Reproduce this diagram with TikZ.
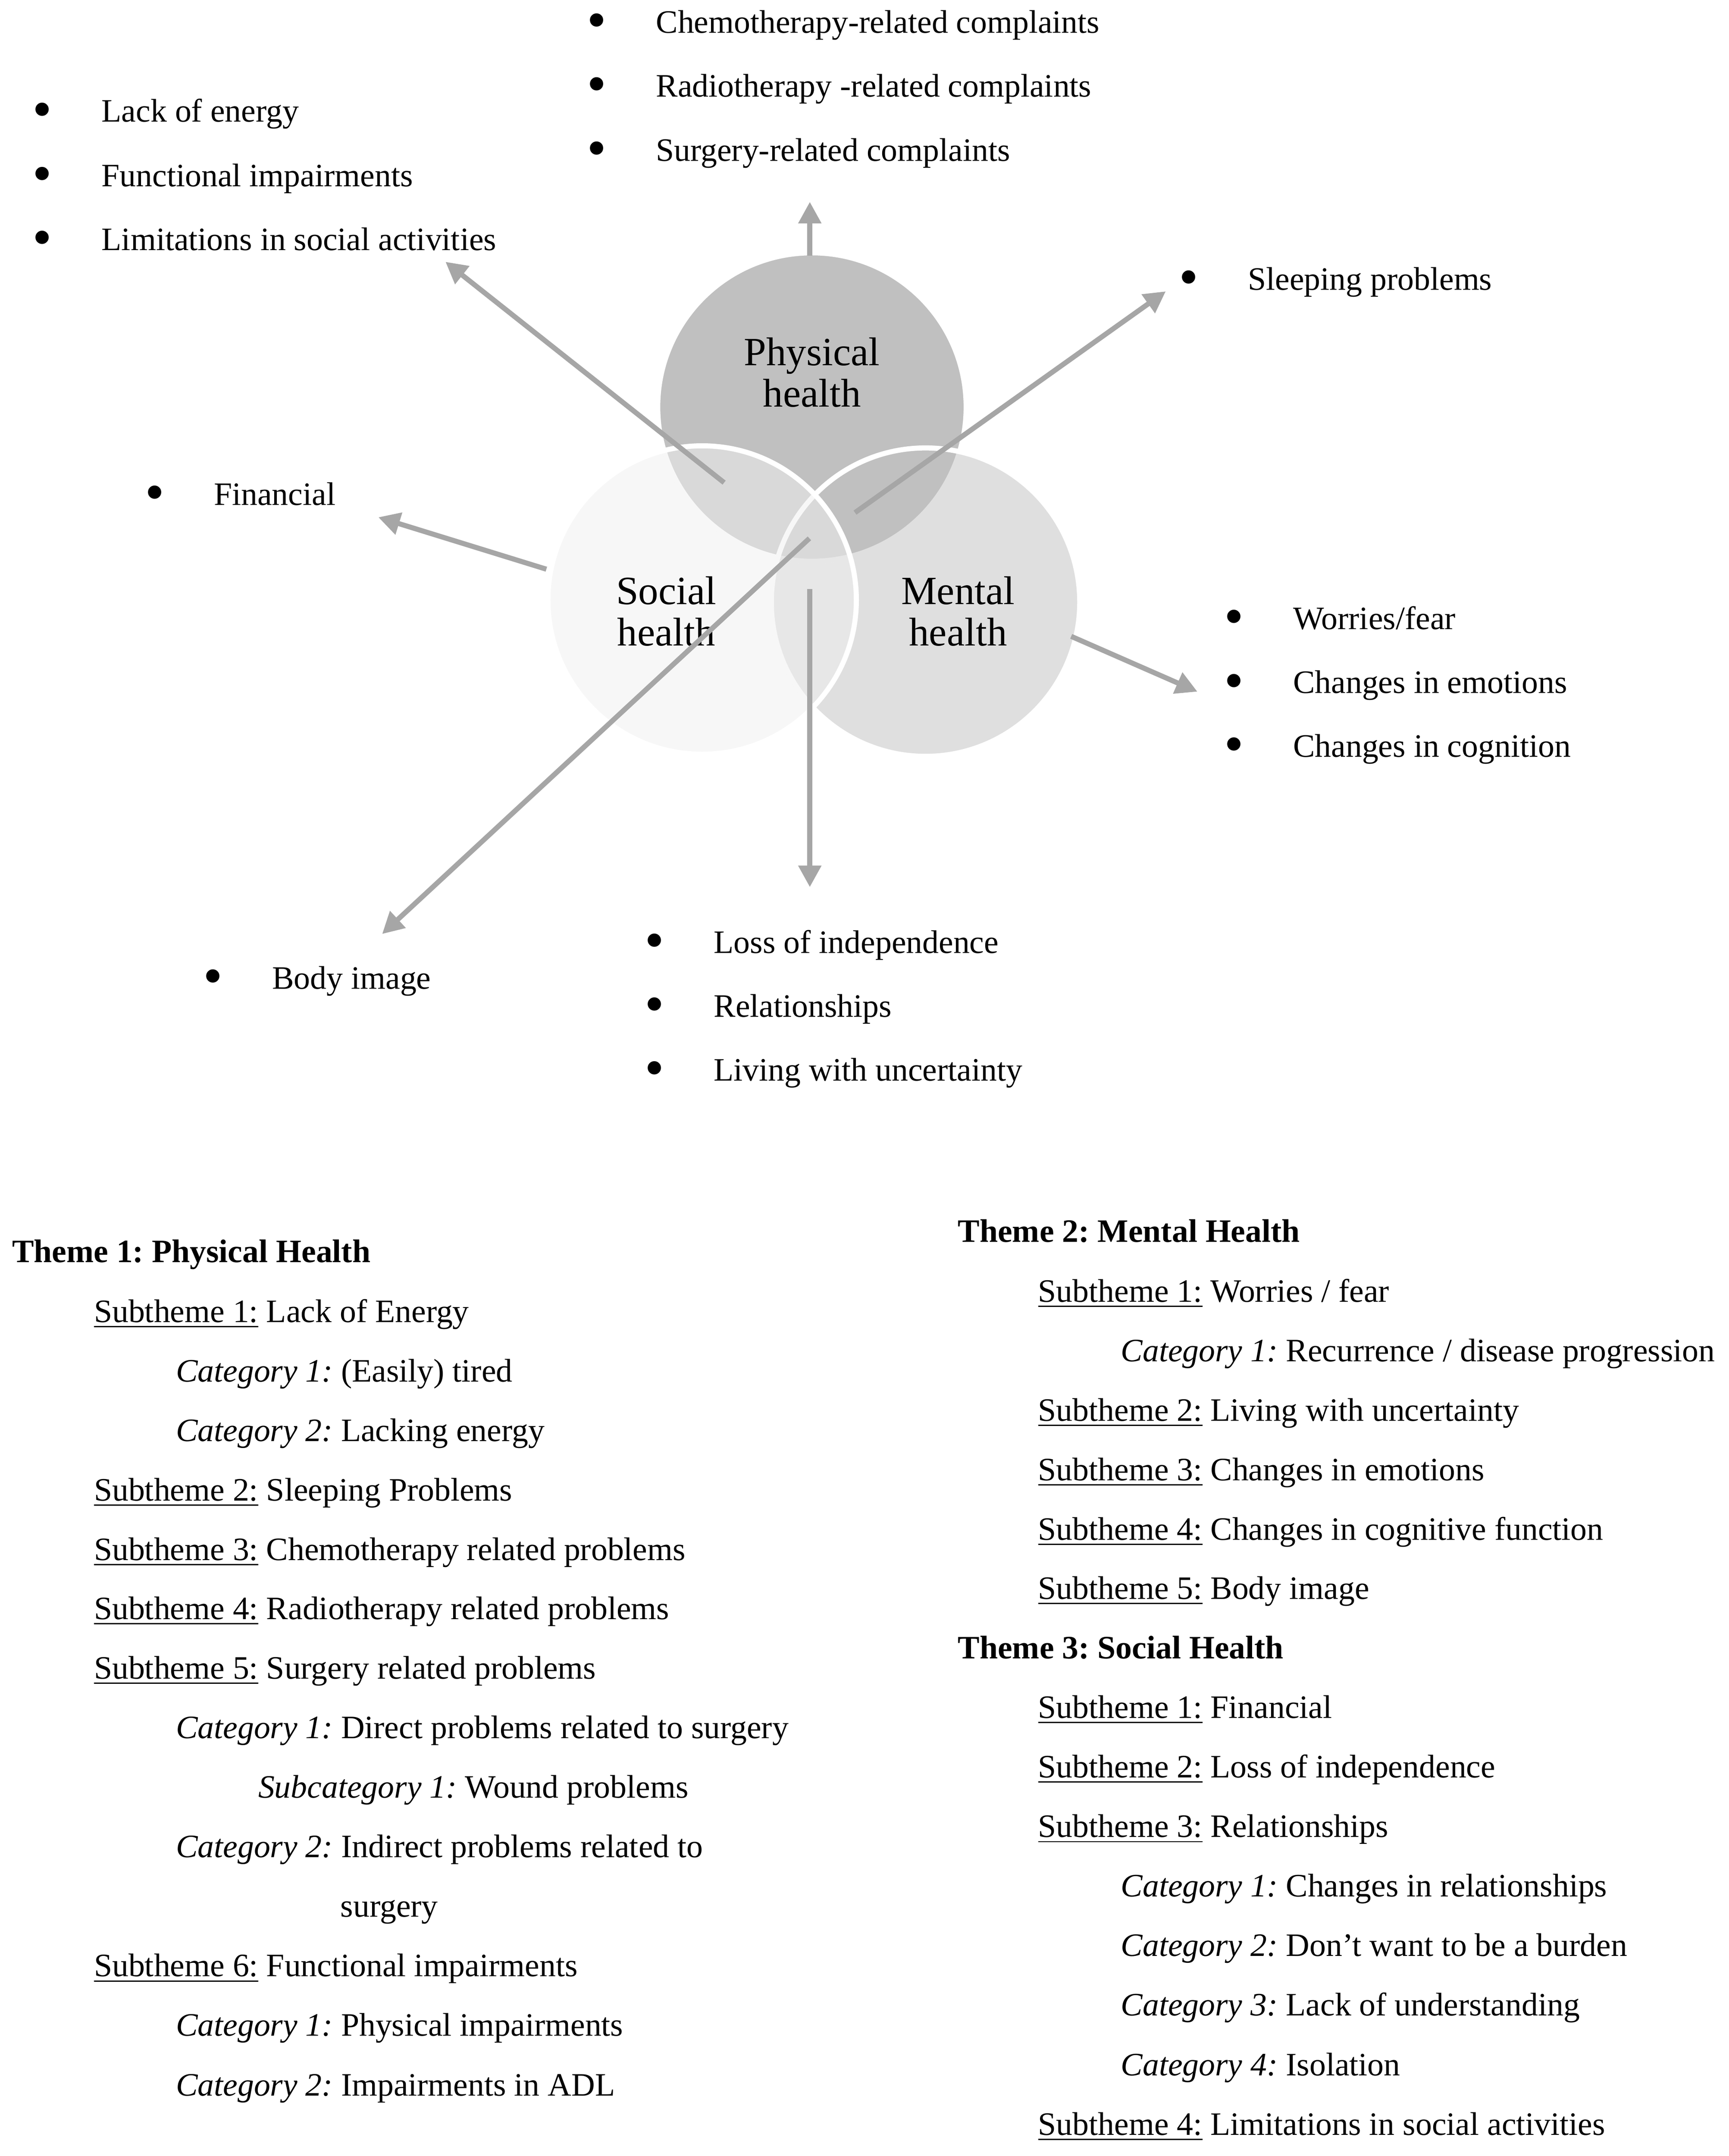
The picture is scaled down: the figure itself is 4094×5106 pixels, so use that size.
\documentclass[tikz,border=0pt]{standalone}
\usepackage{fontspec}
\usepackage{graphicx}
\setmainfont{Liberation Serif}
\usetikzlibrary{arrows.meta}

\definecolor{circdark}{RGB}{192,192,192}
\definecolor{circlight}{RGB}{240,240,240}
\definecolor{arrowgray}{RGB}{166,166,166}

% underlined lead-in of a subtheme line
\newcommand{\undl}[1]{\setbox0\hbox{#1}\rlap{\rule[-0.12cm]{\wd0}{0.03cm}}\box0\relax}
% larger list bullet
\newcommand{\bigbul}{\raisebox{-3.8pt}{\scalebox{1.7}{\textbullet}}}

\begin{document}
\frenchspacing
\begin{tikzpicture}[x=0.01cm, y=-0.01cm,
	txt/.style={anchor=base west, inner sep=0pt, font=\fontsize{22}{26}\selectfont},
	bul/.style={txt, execute at begin node={\llap{\bigbul\hspace{1.17cm}}}},
	lbl/.style={align=center, inner sep=0pt, font=\fontsize{27}{27.9}\selectfont},
	circ/.style={draw=white, line width=0.12cm},
	arr/.style={draw=arrowgray, line width=0.12cm, -{Triangle[length=0.51cm,width=0.52cm]}}]
	\useasboundingbox (0,0) rectangle (4094,5106);

	% venn circles
	\filldraw[circ, fill=circdark] (1923,964) circle (3.65cm);
	\filldraw[circ, fill=circdark, fill opacity=0.5] (2192,1426) circle (3.65cm);
	\filldraw[circ, fill=circlight, fill opacity=0.524] (1663,1421) circle (3.65cm);

	\node[lbl] (physlbl) at (1923,882) {Physical\\health};
	\node[lbl] (soclbl) at (1578,1448) {Social\\health};
	\node[lbl] (mentlbl) at (2269,1448) {Mental\\health};

	% bullet lists around the circles
	\node[bul] (energy) at (240,289) {Lack of energy};
	\node[bul] (functional) at (240,442) {Functional impairments};
	\node[bul] (limits) at (240,593) {Limitations in social activities};

	\node[bul] (chemo) at (1553,78) {Chemotherapy-related complaints};
	\node[bul] (radio) at (1553,229) {Radiotherapy -related complaints};
	\node[bul] (surgery) at (1553,381) {Surgery-related complaints};

	\node[bul] (sleep) at (2955,687) {Sleeping problems};
	\node[bul] (financial) at (506,1196) {Financial};

	\node[bul] (worries) at (3062,1490) {Worries/fear};
	\node[bul] (emotions) at (3062,1642) {Changes in emotions};
	\node[bul] (cognition) at (3062,1793) {Changes in cognition};

	\node[bul] (independence) at (1690,2257) {Loss of independence};
	\node[bul] (relations) at (1690,2408) {Relationships};
	\node[bul] (uncertainty) at (1690,2560) {Living with uncertainty};

	\node[bul] (bodyimg) at (644,2342) {Body image};

	% arrows
	\coordinate (upS) at (1918,606);	\coordinate (upT) at (1918,478);
	\coordinate (ulS) at (1715,1143);	\coordinate (ulT) at (1055,620);
	\coordinate (urS) at (2025,1214);	\coordinate (urT) at (2761,690);
	\coordinate (finS) at (1294,1348);	\coordinate (finT) at (896,1225);
	\coordinate (mentS) at (2537,1507);	\coordinate (mentT) at (2836,1638);
	\coordinate (dnS) at (1918,1395);	\coordinate (dnT) at (1918,2101);
	\coordinate (bodyS) at (1917,1275);	\coordinate (bodyT) at (905,2212);

	\draw[arr] (upS) -- (upT);
	\draw[arr] (ulS) -- (ulT);
	\draw[arr] (urS) -- (urT);
	\draw[arr] (finS) -- (finT);
	\draw[arr] (mentS) -- (mentT);
	\draw[arr] (dnS) -- (dnT);
	\draw[arr] (bodyS) -- (bodyT);

	% theme 1
	\node[txt] (t1) at (28,2990) {\textbf{Theme 1: Physical Health}};
	\node[txt] (t1s1) at (222,3131) {\undl{Subtheme 1:} Lack of Energy};
	\node[txt] (t1s1c1) at (416,3272) {\textit{Category 1:} (Easily) tired};
	\node[txt] (t1s1c2) at (416,3413) {\textit{Category 2:} Lacking energy};
	\node[txt] (t1s2) at (222,3554) {\undl{Subtheme 2:} Sleeping Problems};
	\node[txt] (t1s3) at (222,3695) {\undl{Subtheme 3:} Chemotherapy related problems};
	\node[txt] (t1s4) at (222,3835) {\undl{Subtheme 4:} Radiotherapy related problems};
	\node[txt] (t1s5) at (222,3976) {\undl{Subtheme 5:} Surgery related problems};
	\node[txt] (t1s5c1) at (416,4117) {\textit{Category 1:} Direct problems related to surgery};
	\node[txt] (t1s5sc1) at (611,4258) {\textit{Subcategory 1:} Wound problems};
	\node[txt] (t1s5c2) at (416,4399) {\textit{Category 2:} Indirect problems related to};
	\node[txt] (t1s5c2b) at (806,4540) {surgery};
	\node[txt] (t1s6) at (222,4681) {\undl{Subtheme 6:} Functional impairments};
	\node[txt] (t1s6c1) at (416,4822) {\textit{Category 1:} Physical impairments};
	\node[txt] (t1s6c2) at (416,4963) {\textit{Category 2:} Impairments in ADL};

	% theme 2 and 3
	\node[txt] (t2) at (2268,2942) {\textbf{Theme 2: Mental Health}};
	\node[txt] (t2s1) at (2458,3083) {\undl{Subtheme 1:} Worries / fear};
	\node[txt] (t2s1c1) at (2654,3224) {\textit{Category 1:} Recurrence / disease progression};
	\node[txt] (t2s2) at (2458,3365) {\undl{Subtheme 2:} Living with uncertainty};
	\node[txt] (t2s3) at (2458,3506) {\undl{Subtheme 3:} Changes in emotions};
	\node[txt] (t2s4) at (2458,3647) {\undl{Subtheme 4:} Changes in cognitive function};
	\node[txt] (t2s5) at (2458,3787) {\undl{Subtheme 5:} Body image};
	\node[txt] (t3) at (2268,3928) {\textbf{Theme 3: Social Health}};
	\node[txt] (t3s1) at (2458,4069) {\undl{Subtheme 1:} Financial};
	\node[txt] (t3s2) at (2458,4210) {\undl{Subtheme 2:} Loss of independence};
	\node[txt] (t3s3) at (2458,4351) {\undl{Subtheme 3:} Relationships};
	\node[txt] (t3s3c1) at (2654,4492) {\textit{Category 1:} Changes in relationships};
	\node[txt] (t3s3c2) at (2654,4633) {\textit{Category 2:} Don’t want to be a burden};
	\node[txt] (t3s3c3) at (2654,4774) {\textit{Category 3:} Lack of understanding};
	\node[txt] (t3s3c4) at (2654,4915) {\textit{Category 4:} Isolation};
	\node[txt] (t3s4) at (2458,5056) {\undl{Subtheme 4:} Limitations in social activities};
\end{tikzpicture}
\end{document}
